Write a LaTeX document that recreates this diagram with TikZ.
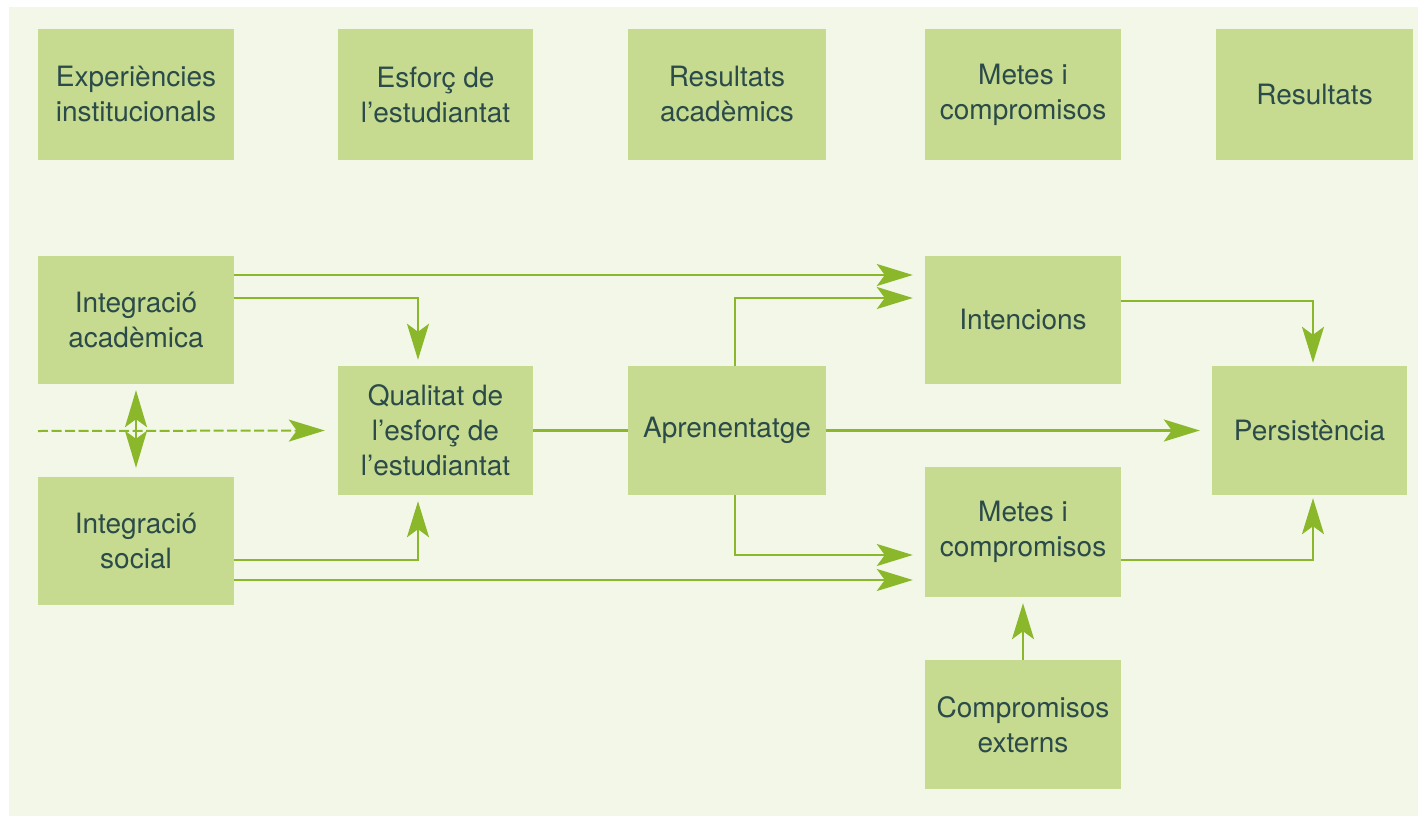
\documentclass[tikz,border=0pt]{standalone}
\usepackage{fontspec}
\setmainfont{TeX Gyre Heros}
\usetikzlibrary{arrows.meta}
\definecolor{panel}{HTML}{F3F7E8}
\definecolor{boxfill}{HTML}{C6DB8F}
\definecolor{lineg}{HTML}{8AB82A}
\definecolor{txt}{HTML}{2B4A4A}
\begin{document}
\begin{tikzpicture}[x=1pt,y=-1pt,
  box/.style={fill=boxfill, draw=none, inner sep=0pt, align=center, text=txt,
    font=\fontsize{28}{35}\selectfont, minimum width=196pt, minimum height=129pt},
  conn/.style={draw=lineg, line width=2.4pt},
  tip/.style={Stealth[length=36pt,width=22pt,inset=8pt]},
  arr/.style={conn, -{Stealth[length=36pt,width=22pt,inset=8pt]}},
  darr/.style={conn, {Stealth[length=37pt,width=22pt,inset=8pt]}-{Stealth[length=37pt,width=22pt,inset=8pt]}},
  dash line/.style={draw=lineg, line width=2pt, dash pattern=on 10pt off 3.5pt,
    -{Stealth[length=36pt,width=22pt,inset=8pt]}}]
\useasboundingbox (0,0) rectangle (1418,816);
\fill[white] (0,0) rectangle (1418,816);
\fill[panel] (9,7) rectangle (1418,816);
% top row
\node[box, minimum height=131pt] (exp) at (136,94.5) {Experiències\\institucionals};
\node[box, minimum height=131pt, minimum width=195pt] (esf) at (435.5,94.5) {Esforç de\\l’estudiantat};
\node[box, minimum height=131pt, minimum width=198pt] (resac) at (727,94.5) {Resultats\\acadèmics};
\node[box, minimum height=131pt] (metestop) at (1023,94.5) {Metes i\\compromisos};
\node[box, minimum height=131pt, minimum width=197pt] (res) at (1314.5,94.5) {Resultats};
% main diagram
\node[box, minimum height=128pt] (ia) at (136,320) {Integració\\acadèmica};
\node[box, minimum height=128pt] (is) at (136,541) {Integració\\social};
\node[box, minimum width=195pt] (qual) at (435.5,430.5) {Qualitat de\\l’esforç de\\l’estudiantat};
\node[box, minimum width=198pt] (apr) at (727,430.5) {Aprenentatge};
\node[box, minimum height=128pt] (int) at (1023,320) {Intencions};
\node[box, minimum width=195pt] (pers) at (1309.5,430.5) {Persistència};
\node[box, minimum height=130pt] (metes) at (1023,532) {Metes i\\compromisos};
\node[box] (comp) at (1023,724.5) {Compromisos\\externs};
\coordinate (dstart) at (38,431);
% connectors
\draw[arr, shorten >=12pt] ([yshift=45pt]ia.east) -- ([yshift=45pt]int.west);
\draw[arr, shorten >=6pt] ([yshift=22pt]ia.east) -| ([xshift=-17.5pt]qual.north);
\draw[arr, shorten >=12pt] ([xshift=8pt]apr.north) |- ([yshift=22pt]int.west);
\draw[arr, shorten >=3pt] ([yshift=19pt]int.east) -| ([xshift=3.5pt]pers.north);
\draw[conn] (qual.east) -- (apr.west);
\draw[arr, shorten >=12pt] (apr.east) -- (pers.west);
\draw[dash line, shorten >=13pt] (dstart) -- (qual.west);
\draw[darr, shorten <=6pt, shorten >=9pt] (ia.south) -- (is.north);
\draw[arr, shorten >=12pt] ([xshift=8pt]apr.south) |- ([yshift=-23pt]metes.west);
\draw[arr, shorten >=6pt] ([yshift=-19pt]is.east) -| ([xshift=-17.5pt]qual.south);
\draw[arr, shorten >=12pt] ([yshift=-39pt]is.east) -- ([yshift=-48pt]metes.west);
\draw[arr, shorten >=3pt] ([yshift=-28pt]metes.east) -| ([xshift=3.5pt]pers.south);
\draw[arr, shorten >=6pt] (comp.north) -- (metes.south);
\end{tikzpicture}
\end{document}
